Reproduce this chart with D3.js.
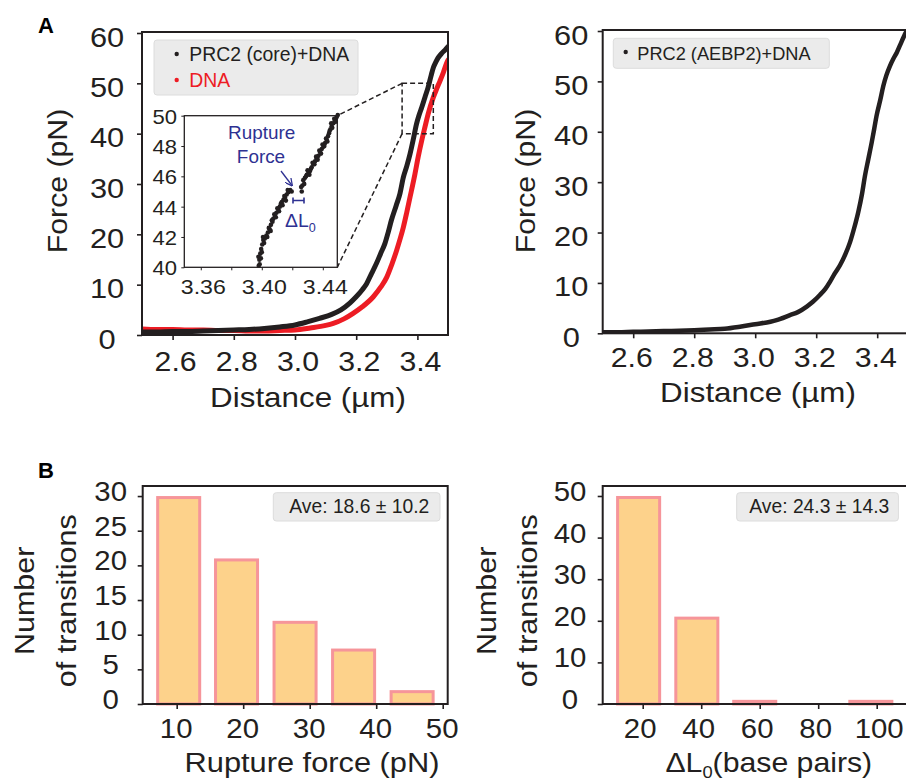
<!DOCTYPE html>
<html><head><meta charset="utf-8">
<script src="https://cdn.jsdelivr.net/npm/d3@7"></script>
<style>
html,body{margin:0;padding:0;background:#fff;}
svg{display:block;font-family:"Liberation Sans",Arial,Helvetica,sans-serif;}
</style></head>
<body>
<svg id="fig" width="906" height="784"></svg>
<script>
// ---------- DATA ----------
const distTicks = [2.6, 2.8, 3.0, 3.2, 3.4];
const forceTicks = [0, 10, 20, 30, 40, 50, 60];
const coreDist  = [2.50,2.55,2.60,2.65,2.70,2.75,2.80,2.85,2.90,2.95,3.00,3.04,3.08,3.12,3.15,3.18,3.20,3.22,3.234,3.25,3.266,3.28,3.294,3.305,3.315,3.33,3.343,3.354,3.365,3.376,3.387,3.397,3.405,3.414,3.425,3.435,3.445,3.452,3.46,3.468,3.48,3.49,3.50];
const coreForce = [0.6,0.6,0.7,0.7,0.8,0.9,1.0,1.1,1.3,1.6,2.0,2.6,3.3,4.1,5.0,6.4,7.6,9.0,10.2,12.2,14.2,16.2,18.2,20.5,22.8,25.6,28.1,31.3,33.5,36.0,39.0,41.9,43.6,45.2,47.3,49.2,51.6,53.1,54.2,55.1,56.0,56.6,57.3];
const dnaDist   = [2.50,2.55,2.60,2.65,2.70,2.75,2.80,2.85,2.90,2.95,3.00,3.05,3.10,3.125,3.16,3.19,3.22,3.256,3.28,3.30,3.315,3.332,3.343,3.354,3.365,3.376,3.392,3.403,3.414,3.425,3.435,3.452,3.463,3.474,3.485,3.496,3.50];
const dnaForce  = [1.2,1.1,1.1,1.0,1.0,0.9,0.9,0.8,0.8,0.9,1.0,1.4,1.9,2.3,3.2,4.3,5.6,7.6,9.5,11.5,13.8,16.8,19.0,21.4,24.3,27.4,32.0,35.5,38.6,41.4,43.9,47.2,48.9,50.5,52.2,54.1,54.6];
const aebDist   = [2.50,2.55,2.60,2.65,2.70,2.75,2.80,2.85,2.90,2.95,3.00,3.05,3.07,3.114,3.14,3.169,3.19,3.212,3.23,3.245,3.26,3.278,3.295,3.311,3.325,3.338,3.35,3.36,3.371,3.382,3.39,3.398,3.41,3.42,3.43,3.442,3.453,3.464,3.475,3.486,3.494,3.50];
const aebForce  = [0.2,0.2,0.3,0.35,0.45,0.5,0.6,0.75,0.9,1.3,1.8,2.3,2.6,3.6,4.2,5.3,6.3,7.6,8.8,10.2,11.8,13.5,15.6,18.1,21.0,24.1,27.6,31.3,34.6,37.9,40.5,43.2,46.3,49.1,51.2,53.1,54.5,55.7,57.2,58.7,59.7,60.2];
// inset (zoom of PRC2 core trace, scattered points)
const insetDistTicks = [3.36, 3.38, 3.40, 3.42, 3.44];
const insetDistLabels = [3.36, 3.40, 3.44];
const insetForceTicks = [40, 42, 44, 46, 48, 50];
const insetDist  = [3.3980,3.3984,3.3990,3.3996,3.4003,3.4010,3.4020,3.4030,3.4040,3.4052,3.4060,3.4066,3.4075,3.4087,3.4096,3.4108,3.4118,3.4131,3.4142,3.4152,3.4163,3.4174,3.4186,3.4196,
                    3.3986,3.3978,3.3994,3.4000,3.4015,3.4008,3.4036,3.4046,3.4058,3.4070,3.4082,3.4092,3.4102,3.4113,3.4125,3.4136,3.4148,3.4158,3.4170,
                    3.4262,3.4266,3.4272,3.4283,3.4295,3.4305,3.4316,3.4327,3.4338,3.4349,3.4360,3.4371,3.4382,3.4393,3.4404,3.4415,3.4426,3.4434,3.4441,3.4450,3.4458,3.4469,3.4480,3.4490,3.4498,
                    3.4258,3.4278,3.4290,3.4300,3.4312,3.4322,3.4333,3.4345,3.4356,3.4366,3.4377,3.4388,3.4398,3.4410,3.4421,3.4430,3.4445,3.4455,3.4462,3.4475,3.4485];
const insetForce = [40.1,40.5,40.9,41.2,41.5,41.8,41.9,42.1,42.3,42.5,42.8,43.1,43.2,43.35,43.6,43.8,44.0,44.3,44.45,44.6,44.8,44.95,45.1,45.0,
                    40.2,40.7,40.6,41.0,41.6,42.0,42.0,42.6,42.4,43.0,43.5,43.3,43.9,43.7,44.2,44.1,44.7,44.4,45.1,
                    45.0,45.4,45.75,45.9,46.1,46.2,46.35,46.6,46.8,47.0,47.2,47.35,47.6,47.8,47.95,48.2,48.4,48.65,48.85,49.1,49.3,49.5,49.7,49.9,50.05,
                    45.3,45.5,46.0,46.4,46.1,46.5,46.9,46.8,47.3,47.1,47.7,47.5,48.1,48.0,48.5,48.3,49.0,49.5,49.2,49.8,49.6];
// histograms
const ruptureCenters = [10.3, 19.0, 27.8, 36.6, 45.4];
const ruptureCounts  = [30, 21, 12, 8, 2];
const ruptureBarWidth = 6.77;
const ruptureXTicks = [10, 20, 30, 40, 50];
const ruptureYTicks = [0, 5, 10, 15, 20, 25, 30];
const dlCenters = [18.6, 38.5, 58.3, 78.2, 98.0];
const dlCounts  = [50, 21, 1, 0, 1];
const dlBarWidth = 15.4;
const dlXTicks = [20, 40, 60, 80, 100];
const dlYTicks = [0, 10, 20, 30, 40, 50];

// ---------- STYLE ----------
const INK = "#231f20", RED = "#ed1c24", BLUE = "#2e3192";
const BARFILL = "#fdd28b", BARSTROKE = "#f6959a";
const svg = d3.select("#fig");

function stretchTicks(g, o){
  g.selectAll(".tick text")
    .attr("x", null).attr("y", null).attr("dy", null)
    .attr("text-anchor", "middle")
    .attr("font-size", o.size)
    .attr("fill", INK)
    .attr("transform", d => `translate(${o.dx + (o.shift ? o.shift(d) : 0)},${o.dy}) scale(${o.sx},1)`);
  g.selectAll(".tick line").attr("stroke", INK).attr("stroke-width", o.tw || 1.6);
  g.select(".domain").remove();
}
function label(x, y, txt, o = {}){
  return svg.append("text")
    .attr("transform", `translate(${x},${y}) rotate(${o.rot||0}) scale(${o.sx||1.1},1)`)
    .attr("text-anchor", o.anchor || "middle")
    .attr("font-size", o.size || 28)
    .attr("fill", o.fill || INK)
    .text(txt);
}

// ---------- FORCE-DISTANCE PANEL ----------
function fdPanel(ox, oy, W, H, series, tickOpts){
  const x = d3.scaleLinear().domain([2.5, 3.5]).range([ox, ox + W]);
  const y = d3.scaleLinear().domain([0, 60]).range([oy + H, oy + 1]);
  const id = "clip" + Math.round(ox);
  svg.append("clipPath").attr("id", id).append("rect")
    .attr("x", ox).attr("y", oy).attr("width", W).attr("height", H);
  const line = d3.line().x(d => x(d[0])).y(d => y(d[1])).curve(d3.curveMonotoneX);
  const gc = svg.append("g").attr("clip-path", `url(#${id})`);
  series.forEach(s => {
    gc.append("path").datum(d3.zip(s.xs, s.ys))
      .attr("d", line).attr("fill", "none")
      .attr("stroke", s.color).attr("stroke-width", s.w)
      .attr("stroke-linejoin", "round").attr("stroke-linecap", "round");
  });
  svg.append("rect").attr("x", ox).attr("y", oy).attr("width", W).attr("height", H)
    .attr("fill", "none").attr("stroke", INK).attr("stroke-width", 2);
  const gx = svg.append("g").attr("transform", `translate(0,${oy + H})`)
    .call(d3.axisBottom(x).tickValues(distTicks).tickFormat(d3.format(".1f")).tickSize(5));
  stretchTicks(gx, {dx: tickOpts.xdx, dy: tickOpts.xdy, size: 28, sx: 1.08});
  const gy = svg.append("g").attr("transform", `translate(${ox},0)`)
    .call(d3.axisLeft(y).tickValues(forceTicks).tickSize(5));
  stretchTicks(gy, {dx: tickOpts.ydx, dy: 13, size: 28, sx: 1.1});
  label(tickOpts.xlx, tickOpts.xly, "Distance (µm)", {size: 28, sx: 1.12});
  label(tickOpts.ylx, tickOpts.yly, "Force (pN)", {size: 28, sx: 1.08, rot: -90});
  return {x, y};
}

const A = fdPanel(142, 32, 306, 303, [
  {xs: dnaDist, ys: dnaForce, color: RED, w: 5},
  {xs: coreDist, ys: coreForce, color: INK, w: 5}
], {xdx: 2.5, xdy: 35.7, ydx: -35, xlx: 308, xly: 406.5, ylx: 67, yly: 181});

fdPanel(602.7, 30, 305, 303.3, [
  {xs: aebDist, ys: aebForce, color: INK, w: 4.5}
], {xdx: -2, xdy: 33.4, ydx: -31.5, xlx: 758, xly: 401.7, ylx: 535, yly: 181});

// legends
svg.append("rect").attr("x", 154).attr("y", 40).attr("width", 204).attr("height", 55).attr("rx", 3)
  .attr("fill", "#ebebeb").attr("stroke", "#dcdcdc");
svg.append("circle").attr("cx", 176.7).attr("cy", 54).attr("r", 2.2).attr("fill", INK);
svg.append("circle").attr("cx", 176.7).attr("cy", 80).attr("r", 2.2).attr("fill", RED);
svg.append("text").attr("x", 189.3).attr("y", 61).attr("font-size", 19.4).attr("fill", INK).text("PRC2 (core)+DNA");
svg.append("text").attr("x", 189.3).attr("y", 87.3).attr("font-size", 19.4).attr("fill", RED).text("DNA");

svg.append("rect").attr("x", 613.3).attr("y", 38.3).attr("width", 216).attr("height", 30).attr("rx", 3)
  .attr("fill", "#ebebeb").attr("stroke", "#dcdcdc");
svg.append("circle").attr("cx", 625.7).attr("cy", 52).attr("r", 2.2).attr("fill", INK);
svg.append("text").attr("x", 637.3).attr("y", 59.5).attr("font-size", 18.2).attr("fill", INK).text("PRC2 (AEBP2)+DNA");

// ---------- INSET ----------
const ix = d3.scaleLinear().domain([3.3492, 3.4495]).range([184.3, 337.3]);
const iy = d3.scaleLinear().domain([40, 50]).range([267.3, 115.7]);
svg.append("rect")
  .attr("x", A.x(3.35)).attr("y", A.y(50))
  .attr("width", A.x(3.452) - A.x(3.35)).attr("height", A.y(40) - A.y(50))
  .attr("fill", "none").attr("stroke", INK).attr("stroke-width", 1.5).attr("stroke-dasharray", "5,3");
svg.append("line").attr("x1", A.x(3.35)).attr("y1", A.y(50)).attr("x2", ix(3.4495)).attr("y2", iy(50))
  .attr("stroke", INK).attr("stroke-width", 1.5).attr("stroke-dasharray", "5,3");
svg.append("line").attr("x1", A.x(3.35)).attr("y1", A.y(40)).attr("x2", ix(3.4495)).attr("y2", iy(40))
  .attr("stroke", INK).attr("stroke-width", 1.5).attr("stroke-dasharray", "5,3");
svg.append("rect").attr("x", 184.3).attr("y", 115.7).attr("width", 153).attr("height", 151.6)
  .attr("fill", "#fff").attr("stroke", INK).attr("stroke-width", 1.3);
svg.append("g").selectAll("circle").data(d3.zip(insetDist, insetForce)).join("circle")
  .attr("cx", d => ix(d[0])).attr("cy", d => iy(d[1])).attr("r", 2.3).attr("fill", INK);
const igx = svg.append("g").attr("transform", "translate(0,267.3)")
  .call(d3.axisBottom(ix).tickValues(insetDistTicks).tickSize(3)
    .tickFormat(d => insetDistLabels.some(v => Math.abs(v - d) < 1e-9) ? d3.format(".2f")(d) : ""));
stretchTicks(igx, {dx: 2, dy: 27, size: 21, sx: 1.1, tw: 1});
const igy = svg.append("g").attr("transform", "translate(184.3,0)")
  .call(d3.axisLeft(iy).tickValues(insetForceTicks).tickSize(3));
stretchTicks(igy, {dx: -19.5, dy: 7.5, size: 21, sx: 1.05, tw: 1});
// annotations
label(261.7, 139.3, "Rupture", {size: 17.5, sx: 1.08, fill: BLUE});
label(261, 163.3, "Force", {size: 17.5, sx: 1.08, fill: BLUE});
svg.append("defs").append("marker").attr("id", "ah").attr("viewBox", "0 0 10 10")
  .attr("refX", 9).attr("refY", 5).attr("markerWidth", 6).attr("markerHeight", 6).attr("orient", "auto")
  .append("path").attr("d", "M0,0 L10,5 L0,10").attr("fill", "none").attr("stroke", BLUE).attr("stroke-width", 1.6);
svg.append("line").attr("x1", 281).attr("y1", 171).attr("x2", 292).attr("y2", 185.5)
  .attr("stroke", BLUE).attr("stroke-width", 1.3).attr("marker-end", "url(#ah)");
svg.append("path").attr("d", "M293,200.5 H304 M293,197.5 V203.5 M304,197.5 V203.5")
  .attr("stroke", BLUE).attr("stroke-width", 1.6).attr("fill", "none");
const dl = svg.append("text").attr("transform", "translate(285,226.7) scale(1.05,1)")
  .attr("font-size", 18.5).attr("fill", BLUE);
dl.append("tspan").text("ΔL");
dl.append("tspan").attr("font-size", 12).attr("dy", 5).text("0");

// panel letters
svg.append("text").attr("x", 38).attr("y", 33).attr("font-size", 22).attr("font-weight", "bold").attr("fill", "#000").text("A");
svg.append("text").attr("x", 38).attr("y", 478).attr("font-size", 22).attr("font-weight", "bold").attr("fill", "#000").text("B");

// ---------- HISTOGRAMS ----------
function histPanel(ox, W, xDomain, yDomain, centers, counts, bw, xt, yt, o){
  const oy = 486, H = 218;
  const x = d3.scaleLinear().domain(xDomain).range([ox, ox + W]);
  const y = d3.scaleLinear().domain(yDomain).range([oy + H, oy]);
  svg.append("g").selectAll("rect").data(d3.zip(centers, counts)).join("rect")
    .attr("x", d => x(d[0] - bw / 2) + 1.5).attr("width", d => x(bw) - x(0) - 3)
    .attr("y", d => y(d[1]) + 1.5).attr("height", d => Math.max(0, y(0) - y(d[1]) - 1.5))
    .attr("fill", BARFILL).attr("stroke", BARSTROKE).attr("stroke-width", 3);
  svg.append("rect").attr("x", ox).attr("y", oy).attr("width", W).attr("height", H)
    .attr("fill", "none").attr("stroke", INK).attr("stroke-width", 2);
  const gx = svg.append("g").attr("transform", `translate(0,${oy + H})`)
    .call(d3.axisBottom(x).tickValues(xt).tickSize(5));
  stretchTicks(gx, {dx: 0, dy: 34.3, size: 28, sx: 1.05, shift: o.xshift});
  const gy = svg.append("g").attr("transform", `translate(${ox},0)`)
    .call(d3.axisLeft(y).tickValues(yt).tickSize(5));
  stretchTicks(gy, {dx: o.ydx, dy: 4.5, size: 28, sx: 1.05});
  label(o.n1x, 600.8, "Number", {size: 28, sx: 1.09, rot: -90});
  label(o.n2x, 600.8, "of transitions", {size: 28, sx: 1.09, rot: -90});
  svg.append("rect").attr("x", o.bx).attr("y", 492.7).attr("width", o.bw).attr("height", 28.3).attr("rx", 3)
    .attr("fill", "#ebebeb").attr("stroke", "#dcdcdc");
  svg.append("text").attr("x", o.tx).attr("y", 512.7).attr("font-size", 19.3).attr("fill", INK).text(o.ave);
  return {x, y};
}

histPanel(142.7, 305, [4.89, 50.75], [0, 31.45], ruptureCenters, ruptureCounts, ruptureBarWidth,
  ruptureXTicks, ruptureYTicks,
  {ydx: -32, n1x: 34, n2x: 75.5, bx: 273.3, bw: 166.7, tx: 289.3, ave: "Ave: 18.6 ± 10.2", xshift: () => -1});
label(312, 771.7, "Rupture force (pN)", {size: 28, sx: 1.1});

histPanel(602.7, 305, [6.32, 110.6], [0, 52.4], dlCenters, dlCounts, dlBarWidth,
  dlXTicks, dlYTicks,
  {ydx: -32.7, n1x: 496, n2x: 537, bx: 736.7, bw: 161.7, tx: 749.3, ave: "Ave: 24.3 ± 14.3", xshift: d => d === 100 ? 2 : -3});
const dlab = svg.append("text").attr("transform", "translate(768.8,772) scale(1.08,1)")
  .attr("text-anchor", "middle").attr("font-size", 28).attr("fill", INK);
dlab.append("tspan").text("ΔL");
dlab.append("tspan").attr("font-size", 17).attr("dy", 6).text("0");
dlab.append("tspan").attr("dy", -6).text("(base pairs)");
</script>
</body></html>
